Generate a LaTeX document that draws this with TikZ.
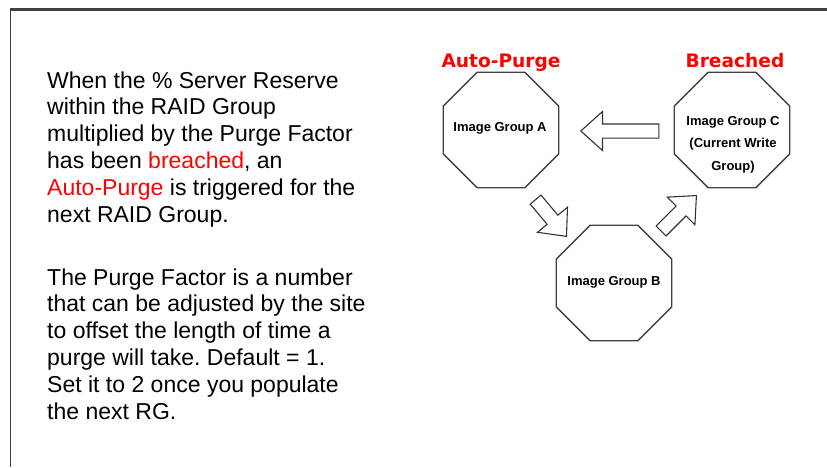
\documentclass[tikz,border=0pt]{standalone}
\usepackage{fontspec}
\setmainfont{Liberation Sans}
\newfontfamily\titlefont{DejaVu Sans}
\usetikzlibrary{shapes.geometric,shapes.arrows,positioning}
\frenchspacing

\begin{document}
\begin{tikzpicture}[x=1pt, y=-1pt,
  group/.style={draw=black!75, line width=1.4pt, regular polygon, regular polygon sides=8, minimum size=125pt, inner sep=0pt},
  grouptext/.style={align=center, inner sep=0pt, font=\fontsize{13}{22.5}\selectfont\bfseries},
  title/.style={text=red, anchor=base, inner sep=0pt, font=\titlefont\fontsize{18.6}{20}\selectfont\bfseries},
  blockarrow/.style={draw=black!80, line width=1.1pt, fill=white, single arrow, single arrow head extend=12.5pt, single arrow tip angle=84, minimum width=38pt, inner xsep=0pt, inner ysep=6.5pt, anchor=tip},
  body/.style={align=left, anchor=north west, inner sep=0pt, font=\fontsize{23}{26.8}\selectfont}]
\useasboundingbox (0,0) rectangle (827,467);
% frame
\draw[black!75, line width=3pt] (10,9.5) -- (827,9.5);
\draw[black!75, line width=1.6pt] (10.5,9) -- (10.5,467);

% text on the left
\node[body] (par1) at (47,71.3) {When the \% Server Reserve\\within the RAID Group\\multiplied by the Purge Factor\\has been \textcolor{red}{breached}, an\\\textcolor{red}{Auto-Purge} is triggered for the\\next RAID Group.};
\node[body] (par2) at (47,268.3) {The Purge Factor is a number\\that can be adjusted by the site\\to offset the length of time a\\purge will take. Default = 1.\\Set it to 2 once you populate\\the next RG.};

% image groups
\node[group] (A) at (501,130) {};
\node[group] (B) at (614,283) {};
\node[group] (C) at (732,130) {};
\node[grouptext] (textA) at (500,128) {Image Group A};
\node[grouptext] (textB) at (614,282) {Image Group B};
\node[grouptext] (textC) at (733,144.5) {Image Group C\\(Current Write\\Group)};

\node[title] (autopurge) at (A.north |- 0,67) {Auto-Purge};
\node[title] (breached) at (735,67) {Breached};

% block arrows
\node[blockarrow, minimum height=78pt, rotate=180] (cToA) at (580,131) {};
\node[blockarrow, minimum height=48pt, rotate=-50] (aToB) at (567,237) {};
\node[blockarrow, minimum height=50pt, rotate=45] (bToC) at (697,195) {};
\end{tikzpicture}
\end{document}
